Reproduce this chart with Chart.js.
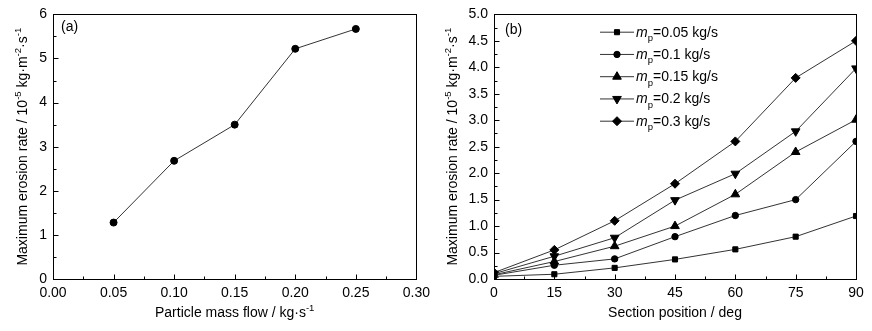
<!DOCTYPE html>
<html>
<head>
<meta charset="utf-8">
<script src="https://cdn.jsdelivr.net/npm/chart.js@4.4.1/dist/chart.umd.min.js"></script>
<style>
  body { margin: 0; background: #fff; width: 872px; height: 331px; overflow: hidden; }
  canvas { position: absolute; top: 0; }
  #chartA { left: 0; }
  #chartB { left: 436px; }
</style>
</head>
<body>
<canvas id="chartA" width="436" height="331"></canvas>
<canvas id="chartB" width="436" height="331"></canvas>
<script>
// panel (a)
const massFlow = [0.05, 0.10, 0.15, 0.20, 0.25];
const maxRateA = [1.28, 2.68, 3.50, 5.22, 5.67];

// panel (b)
const sectionPos = [0, 15, 30, 45, 60, 75, 90];
const rate005 = [0.05, 0.09, 0.21, 0.37, 0.56, 0.80, 1.19];
const rate010 = [0.07, 0.26, 0.38, 0.80, 1.20, 1.50, 2.60];
const rate015 = [0.08, 0.33, 0.62, 1.00, 1.60, 2.40, 3.01];
const rate020 = [0.10, 0.43, 0.78, 1.49, 1.99, 2.79, 3.98];
const rate030 = [0.12, 0.55, 1.10, 1.80, 2.60, 3.80, 4.50];
const flowLabels = ['0.05', '0.1', '0.15', '0.2', '0.3'];

const FONT = '"Liberation Sans", Arial, sans-serif';

function pts(xs, ys) {
  return xs.map((x, i) => ({ x: x, y: ys[i] }));
}

// draws text with superscripts / subscripts, centred or left aligned at x
function drawRich(ctx, segs, x, y, size, align) {
  const fontOf = s => (s.italic ? 'italic ' : '') + ((s.sup || s.sub) ? size * 0.68 : size) + 'px ' + FONT;
  let total = 0;
  segs.forEach(s => { ctx.font = fontOf(s); total += ctx.measureText(s.t).width; });
  let cx = align === 'left' ? x : x - total / 2;
  ctx.textAlign = 'left';
  ctx.textBaseline = 'alphabetic';
  segs.forEach(s => {
    ctx.font = fontOf(s);
    let dy = s.sup ? -size * 0.42 : (s.sub ? size * 0.32 : 0);
    ctx.fillText(s.t, cx, y + dy);
    cx += ctx.measureText(s.t).width;
  });
}

const yTitleSegs = [
  { t: 'Maximum erosion rate / 10' }, { t: '-5', sup: true },
  { t: ' kg\u00b7m' }, { t: '-2', sup: true },
  { t: '\u00b7s' }, { t: '-1', sup: true }
];

const paperFrame = {
  id: 'paperFrame',
  afterDraw(chart, args, opts) {
    const ctx = chart.ctx, a = chart.chartArea;
    const xs = chart.scales.x, ys = chart.scales.y;
    ctx.save();
    ctx.strokeStyle = '#000';
    ctx.fillStyle = '#000';
    ctx.lineWidth = 1;
    const L = Math.round(a.left) + 0.5, R = Math.round(a.right) + 0.5;
    const T = Math.round(a.top) + 0.5, B = Math.round(a.bottom) + 0.5;
    ctx.strokeRect(L, T, R - L, B - T);

    // inward ticks, major and minor
    ctx.beginPath();
    let n = Math.round((xs.max - xs.min) / opts.xMinor);
    for (let i = 0; i <= n; i++) {
      const px = Math.round(xs.getPixelForValue(xs.min + i * opts.xMinor)) + 0.5;
      const len = i % 2 === 0 ? 5 : 3;
      ctx.moveTo(px, B); ctx.lineTo(px, B - len);
    }
    n = Math.round((ys.max - ys.min) / opts.yMinor);
    for (let i = 0; i <= n; i++) {
      const py = Math.round(ys.getPixelForValue(ys.min + i * opts.yMinor)) + 0.5;
      const len = i % 2 === 0 ? 5 : 3;
      ctx.moveTo(L, py); ctx.lineTo(L + len, py);
    }
    ctx.stroke();

    // axis titles
    drawRich(ctx, opts.xTitle, (a.left + a.right) / 2, opts.xTitleY, 14, 'center');
    ctx.save();
    ctx.translate(opts.yTitleX, (a.top + a.bottom) / 2);
    ctx.rotate(-Math.PI / 2);
    drawRich(ctx, yTitleSegs, 0, 0, 14, 'center');
    ctx.restore();

    // panel label
    ctx.font = '14px ' + FONT;
    ctx.textAlign = 'left';
    ctx.fillText(opts.panel, opts.panelX, opts.panelY);

    // legend
    if (opts.legend) {
      const lg = opts.legend;
      chart.data.datasets.forEach((ds, i) => {
        const y = lg.y0 + i * lg.dy;
        ctx.strokeStyle = '#333';
        ctx.beginPath();
        ctx.moveTo(lg.x0, y + 0.5); ctx.lineTo(lg.x1, y + 0.5);
        ctx.stroke();
        ctx.strokeStyle = '#000';
        Chart.helpers.drawPoint(ctx, {
          pointStyle: ds.pointStyle, radius: ds.pointRadius,
          rotation: ds.pointRotation || 0, borderWidth: 1
        }, (lg.x0 + lg.x1) / 2, y + 0.5);
        drawRich(ctx, [
          { t: 'm', italic: true }, { t: 'p', sub: true },
          { t: '=' + flowLabels[i] + ' kg/s' }
        ], lg.tx, y + 5, 14, 'left');
      });
    }
    ctx.restore();
  }
};

function baseScales(xMin, xMax, xStep, xDec, yMin, yMax, yStep, yDec, yWidth) {
  return {
    x: {
      type: 'linear', min: xMin, max: xMax,
      grid: { display: false, drawTicks: false }, border: { display: false },
      afterFit: s => { s.height = 52; },
      ticks: {
        stepSize: xStep, padding: 6, color: '#000',
        font: { family: FONT, size: 14 },
        callback: v => v.toFixed(xDec)
      }
    },
    y: {
      type: 'linear', min: yMin, max: yMax,
      grid: { display: false, drawTicks: false }, border: { display: false },
      afterFit: s => { s.width = yWidth; },
      ticks: {
        stepSize: yStep, padding: 6, color: '#000',
        font: { family: FONT, size: 14 },
        callback: v => v.toFixed(yDec)
      }
    }
  };
}

const lineStyle = { borderColor: '#333', borderWidth: 1, pointBackgroundColor: '#000', pointBorderColor: '#000', pointBorderWidth: 1, showLine: true, fill: false };

new Chart(document.getElementById('chartA'), {
  type: 'scatter',
  data: {
    datasets: [Object.assign({ data: pts(massFlow, maxRateA), pointStyle: 'circle', pointRadius: 3.5 }, lineStyle)]
  },
  options: {
    responsive: false, animation: false,
    layout: { padding: { left: 0, right: 19, top: 11, bottom: 0 } },
    plugins: {
      legend: { display: false }, tooltip: { enabled: false },
      paperFrame: {
        xMinor: 0.025, yMinor: 0.5,
        xTitle: [{ t: 'Particle mass flow / kg\u00b7s' }, { t: '-1', sup: true }],
        xTitleY: 317, yTitleX: 27,
        panel: '(a)', panelX: 61, panelY: 31
      }
    },
    scales: baseScales(0, 0.3, 0.05, 2, 0, 6, 1, 0, 53)
  },
  plugins: [paperFrame]
});

const styleB = [
  { pointStyle: 'rect', pointRadius: 3.6 },
  { pointStyle: 'circle', pointRadius: 3.2 },
  { pointStyle: 'triangle', pointRadius: 5 },
  { pointStyle: 'triangle', pointRadius: 5, pointRotation: 180 },
  { pointStyle: 'rectRot', pointRadius: 4.5 }
];
const seriesB = [rate005, rate010, rate015, rate020, rate030];

new Chart(document.getElementById('chartB'), {
  type: 'scatter',
  data: {
    datasets: seriesB.map((s, i) => Object.assign({ data: pts(sectionPos, s) }, styleB[i], lineStyle))
  },
  options: {
    responsive: false, animation: false,
    layout: { padding: { left: 0, right: 16, top: 12, bottom: 0 } },
    plugins: {
      legend: { display: false }, tooltip: { enabled: false },
      paperFrame: {
        xMinor: 7.5, yMinor: 0.25,
        xTitle: [{ t: 'Section position / deg' }],
        xTitleY: 317, yTitleX: 21,
        panel: '(b)', panelX: 69, panelY: 34,
        legend: { x0: 164, x1: 198, y0: 31.7, dy: 22.25, tx: 200 }
      }
    },
    scales: baseScales(0, 90, 15, 0, 0, 5, 0.5, 1, 58)
  },
  plugins: [paperFrame]
});
</script>
</body>
</html>
